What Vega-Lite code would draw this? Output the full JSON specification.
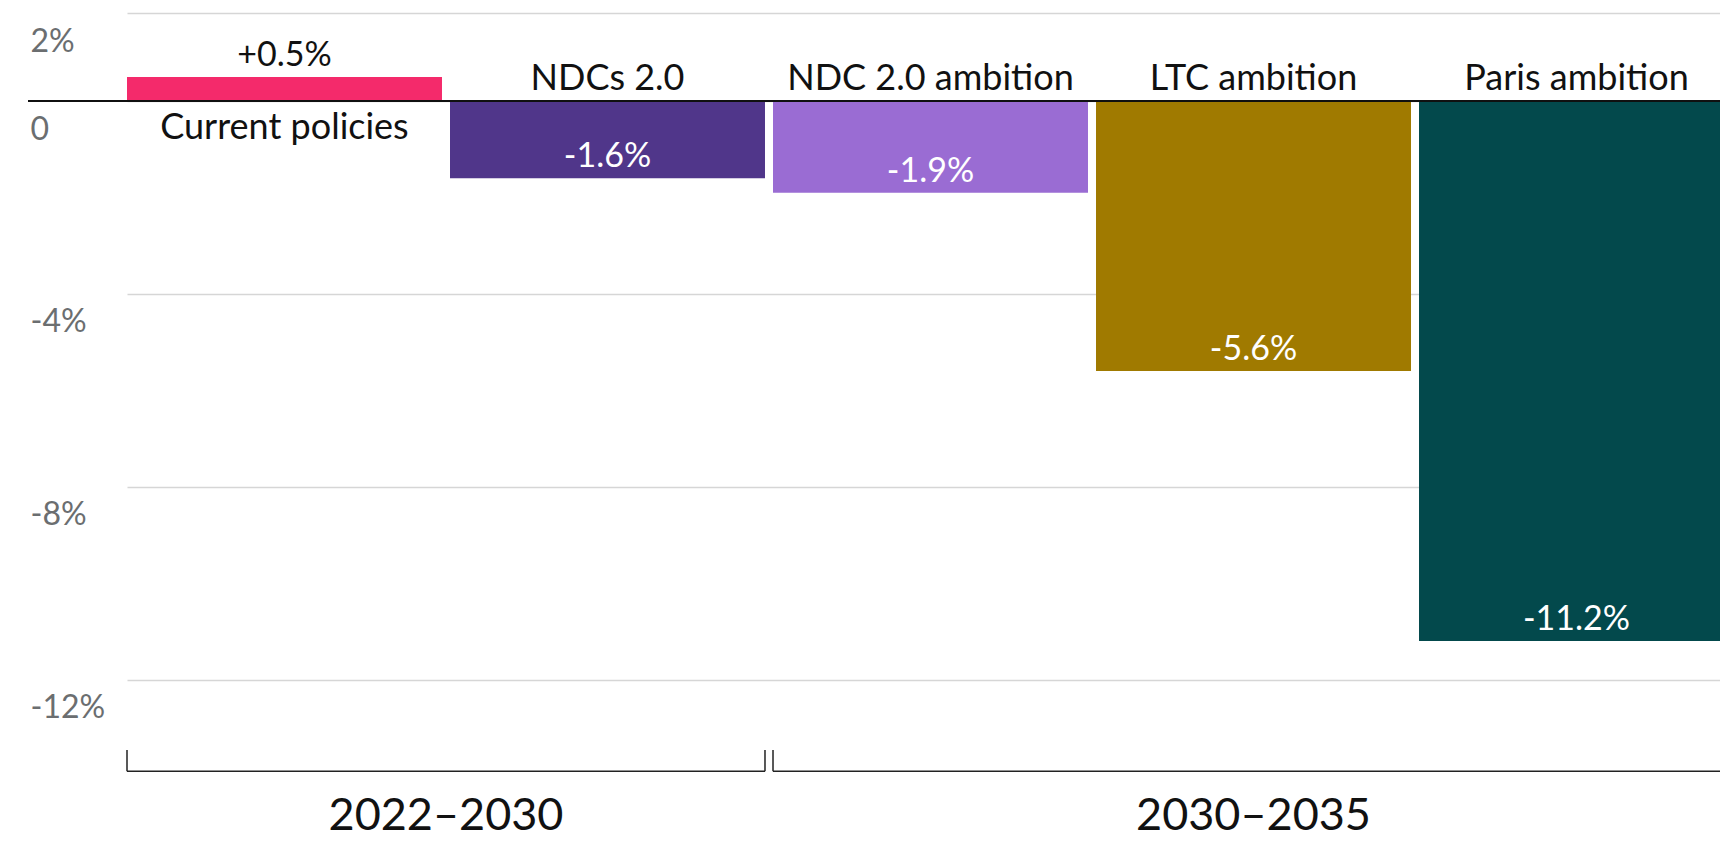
{
  "$schema": "https://vega.github.io/schema/vega-lite/v6.json",
  "width": 1692,
  "height": 829,
  "autosize": {"type": "none"},
  "padding": {"left": 28, "top": 13, "right": 0, "bottom": 0},
  "background": "white",
  "config": {"view": {"stroke": null}, "font": "Lato", "text": {"font": "Lato"}},
  "datasets": {
    "bars": [
      {"scenario": "Current policies", "group": "2022–2030", "change": 0.5, "label": "+0.5%"},
      {"scenario": "NDCs 2.0", "group": "2022–2030", "change": -1.6, "label": "-1.6%"},
      {"scenario": "NDC 2.0 ambition", "group": "2030–2035", "change": -1.9, "label": "-1.9%"},
      {"scenario": "LTC ambition", "group": "2030–2035", "change": -5.6, "label": "-5.6%"},
      {"scenario": "Paris ambition", "group": "2030–2035", "change": -11.2, "label": "-11.2%"}
    ],
    "groups": [
      {"group": "2022–2030", "first": "Current policies", "last": "NDCs 2.0"},
      {"group": "2030–2035", "first": "NDC 2.0 ambition", "last": "Paris ambition"}
    ]
  },
  "data": {"name": "bars"},
  "resolve": {"scale": {"x": "shared", "y": "shared"}},
  "layer": [
    {
      "mark": {"type": "bar"},
      "encoding": {
        "x": {
          "field": "scenario", "type": "nominal", "axis": null,
          "scale": {"type": "band", "domain": ["Current policies", "NDCs 2.0", "NDC 2.0 ambition", "LTC ambition", "Paris ambition"], "range": [99, 1706], "paddingInner": 0.0248, "paddingOuter": 0}
        },
        "y": {
          "field": "change", "type": "quantitative",
          "scale": {"domain": [-15.37, 1.826], "nice": false, "zero": false},
          "axis": {
            "values": [1.826, 0, -4, -8, -12],
            "labelExpr": "datum.value > 1 ? '2%' : (datum.value == 0 ? '0' : datum.value + '%')",
            "title": null, "domain": false, "ticks": false,
            "grid": true, "gridColor": "#d6d6d6", "gridWidth": 1.5,
            "labelAlign": "left", "labelBaseline": "alphabetic", "labelPadding": -2, "labelOffset": 38,
            "labelFontSize": 32, "labelColor": "#6b6e70", "labelFont": "Lato", "labelFlush": false, "labelOverlap": false, "labelBound": false
          }
        },
        "y2": {"datum": 0},
        "color": {
          "field": "scenario", "type": "nominal", "legend": null,
          "scale": {"domain": ["Current policies", "NDCs 2.0", "NDC 2.0 ambition", "LTC ambition", "Paris ambition"], "range": ["#F42A6B", "#50368A", "#9A6CD3", "#A07A00", "#03494C"]}
        }
      }
    },
    {
      "mark": {"type": "rule", "color": "#111111", "strokeWidth": 1.5},
      "encoding": {"y": {"datum": 0}}
    },
    {
      "mark": {"type": "text", "fontSize": 34, "baseline": "alphabetic", "dy": -11},
      "encoding": {
        "x": {"field": "scenario", "type": "nominal"},
        "y": {"field": "change", "type": "quantitative"},
        "text": {"field": "label"},
        "color": {"condition": {"test": "datum.change > 0", "value": "#111111"}, "value": "#ffffff"}
      }
    },
    {
      "transform": [{"filter": "datum.change < 0"}],
      "mark": {"type": "text", "fontSize": 36, "baseline": "alphabetic", "dy": -11, "color": "#111111"},
      "encoding": {
        "x": {"field": "scenario", "type": "nominal"},
        "y": {"datum": 0},
        "text": {"field": "scenario"}
      }
    },
    {
      "transform": [{"filter": "datum.change > 0"}],
      "mark": {"type": "text", "fontSize": 36, "baseline": "alphabetic", "dy": 38, "color": "#111111"},
      "encoding": {
        "x": {"field": "scenario", "type": "nominal"},
        "y": {"datum": 0},
        "text": {"field": "scenario"}
      }
    },
    {
      "data": {"name": "groups"},
      "mark": {"type": "rule", "color": "#222222", "strokeWidth": 1.5, "x2Offset": 157.5},
      "encoding": {
        "x": {"field": "first", "type": "nominal", "bandPosition": 0},
        "x2": {"field": "last"},
        "y": {"datum": -13.9}
      }
    },
    {
      "data": {"name": "groups"},
      "mark": {"type": "rule", "color": "#222222", "strokeWidth": 1.5},
      "encoding": {
        "x": {"field": "first", "type": "nominal", "bandPosition": 0},
        "y": {"datum": -13.46},
        "y2": {"datum": -13.9}
      }
    },
    {
      "data": {"name": "groups"},
      "mark": {"type": "rule", "color": "#222222", "strokeWidth": 1.5},
      "encoding": {
        "x": {"field": "last", "type": "nominal", "bandPosition": 1},
        "y": {"datum": -13.46},
        "y2": {"datum": -13.9}
      }
    },
    {
      "data": {"name": "groups"},
      "transform": [{"filter": "datum.group == '2022–2030'"}],
      "mark": {"type": "text", "fontSize": 45, "baseline": "alphabetic", "dx": -4, "color": "#111111"},
      "encoding": {
        "x": {"datum": "NDCs 2.0", "type": "nominal", "bandPosition": 0},
        "y": {"datum": -15.13},
        "text": {"field": "group"}
      }
    },
    {
      "data": {"name": "groups"},
      "transform": [{"filter": "datum.group == '2030–2035'"}],
      "mark": {"type": "text", "fontSize": 45, "baseline": "alphabetic", "color": "#111111"},
      "encoding": {
        "x": {"datum": "LTC ambition", "type": "nominal"},
        "y": {"datum": -15.13},
        "text": {"field": "group"}
      }
    }
  ]
}
